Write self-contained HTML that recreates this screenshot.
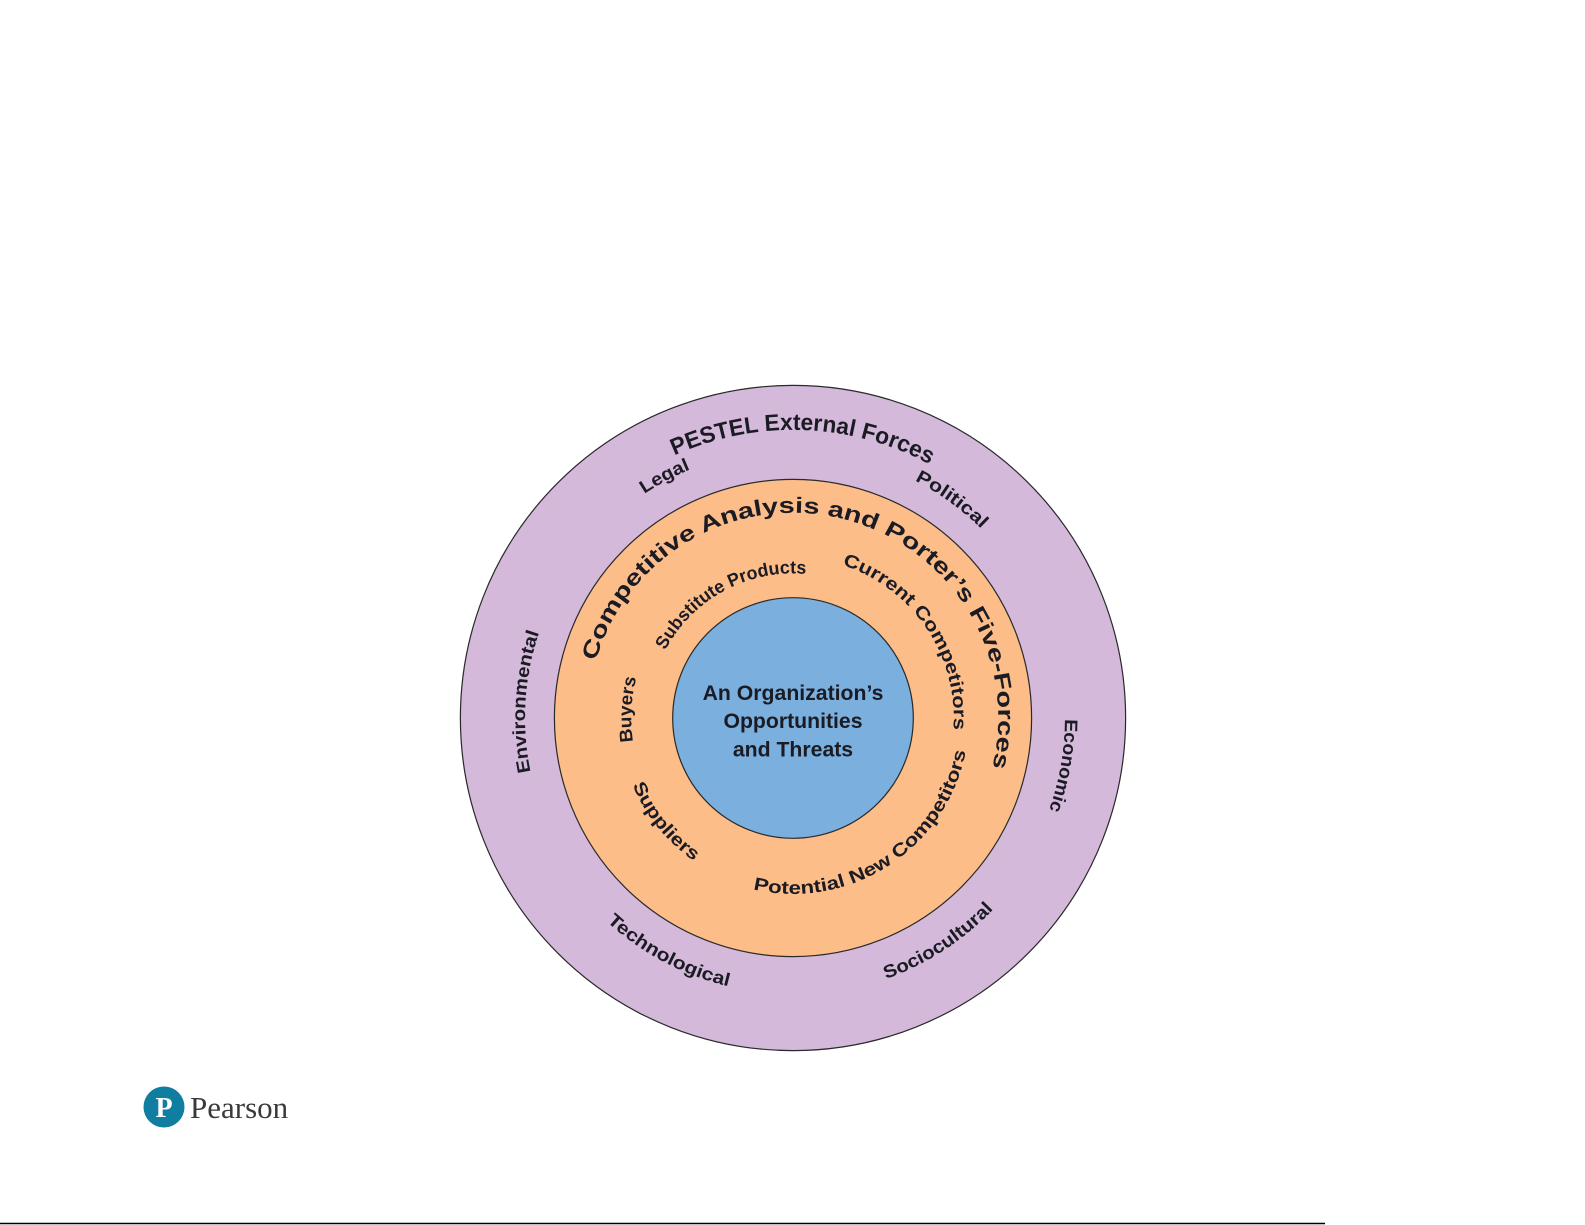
<!DOCTYPE html>
<html><head><meta charset="utf-8">
<style>
html,body{margin:0;padding:0;background:#fff;}
svg{display:block;}
text{font-family:"Liberation Sans","DejaVu Sans",sans-serif;fill:#1b1b24;}
</style></head>
<body>
<svg id="s" width="1585" height="1225" viewBox="0 0 1585 1225" xmlns="http://www.w3.org/2000/svg">
<defs id="d"></defs>
<g transform="translate(793,718) scale(1.011) translate(-784,-710)">
<circle cx="784" cy="710" r="329" fill="#d4b9da" stroke="#2a2a2a" stroke-width="1.2"/>
<circle cx="784" cy="710" r="236" fill="#fcbd89" stroke="#2a2a2a" stroke-width="1.2"/>
<circle cx="784" cy="710" r="119" fill="#7aafde" stroke="#2a2a2a" stroke-width="1.2"/>
<g id="g"></g>
<text x="784" y="692" text-anchor="middle" font-size="21" font-weight="bold" fill="#16243a">An Organization’s</text>
<text x="784" y="720" text-anchor="middle" font-size="21" font-weight="bold" fill="#16243a">Opportunities</text>
<text x="784" y="748" text-anchor="middle" font-size="21" font-weight="bold" fill="#16243a">and Threats</text>
</g>
<circle cx="164" cy="1107" r="20.5" fill="#0f7ea0"/>
<text x="164" y="1117" text-anchor="middle" font-size="28" font-weight="bold" style="fill:#fff;font-family:'Liberation Serif',serif">P</text>
<text x="190" y="1118" font-size="31" style="fill:#3a3a3a;font-family:'Liberation Serif',serif">Pearson</text>
<line x1="0" y1="1223.5" x2="1325" y2="1223.5" stroke="#000" stroke-width="1.5"/>
</svg>
<script>
var cx=784,cy=710,ns="http://www.w3.org/2000/svg";
function pt(r,a){a=a*Math.PI/180;return [(cx+r*Math.sin(a)).toFixed(2),(cy-r*Math.cos(a)).toFixed(2)];}
var items=[
["PESTEL External Forces",285,2,262,23,"bold",0],
["Legal",266,-28,52,18,"normal",0],
["Political",264,36,82,18,"normal",0],
["Economic",269,100,92,18,"normal",0],
["Environmental",265,-86.5,140,18,"normal",0],
["Competitive Analysis and Porter’s Five-Forces",203,15,630,22,"bold",0],
["Substitute Products",143,-28.5,168,18,"normal",0],
["Current Competitors",159,56,212,18,"normal",0],
["Buyers",160,-87,64,18,"normal",0],
["Sociocultural",274,147,128,18,"normal",1],
["Technological",273,208,138,18,"normal",1],
["Suppliers",172,231,98,18,"normal",1],
["Potential New Competitors",174,147,280,18,"normal",1]
];
var d=document.getElementById("d"),g=document.getElementById("g");
items.forEach(function(it,i){
 var r=it[1],c=it[2],span=100,p,a,b;
 if(!it[6]){a=pt(r,c-span);b=pt(r,c+span);p="M"+a+" A"+r+" "+r+" 0 1 1 "+b;}
 else{a=pt(r,c+span);b=pt(r,c-span);p="M"+a+" A"+r+" "+r+" 0 1 0 "+b;}
 var path=document.createElementNS(ns,"path");path.setAttribute("id","p"+i);path.setAttribute("d",p);path.setAttribute("fill","none");d.appendChild(path);
 var t=document.createElementNS(ns,"text");t.setAttribute("font-size",it[4]);t.setAttribute("font-weight",it[5]=="bold"?"bold":"600");t.setAttribute("text-anchor","middle");
 var tp=document.createElementNS(ns,"textPath");tp.setAttribute("href","#p"+i);tp.setAttribute("startOffset","50%");tp.setAttribute("textLength",it[3]);tp.setAttribute("lengthAdjust","spacingAndGlyphs");
 tp.textContent=it[0];t.appendChild(tp);g.appendChild(t);
});
</script>
</body></html>
